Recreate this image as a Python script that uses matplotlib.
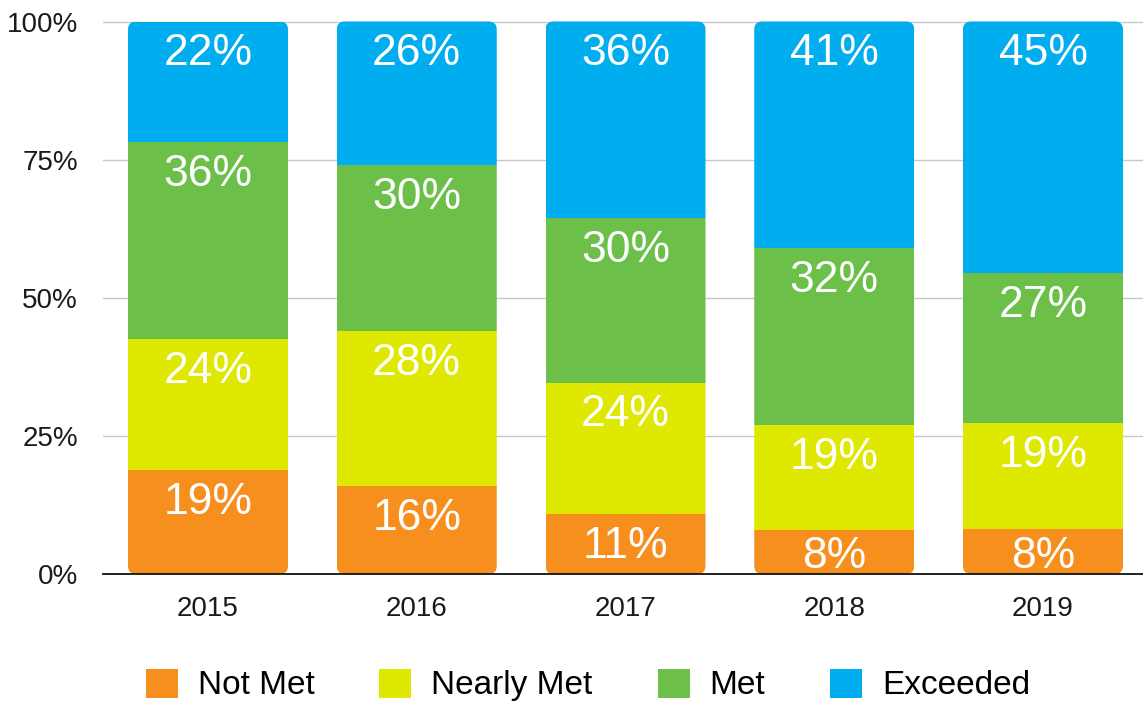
import matplotlib
matplotlib.use('Agg')
import matplotlib.pyplot as plt
from matplotlib.patches import FancyBboxPatch, Patch
import numpy as np

years = ['2015', '2016', '2017', '2018', '2019']
series = ['Not Met', 'Nearly Met', 'Met', 'Exceeded']
not_met = [19, 16, 11, 8, 8]
nearly_met = [24, 28, 24, 19, 19]
met = [36, 30, 30, 32, 27]
exceeded = [22, 26, 36, 41, 45]
colors = ['#F78F1E', '#DEE800', '#6CC04A', '#00ADEF']
yticks = [0, 25, 50, 75, 100]
ytick_labels = ['0%', '25%', '50%', '75%', '100%']

W, H = 1143, 702
fig = plt.figure(figsize=(W / 100, H / 100), dpi=100)

# layout in pixels
y0_px, y100_px = 574, 21.5
ppu_y = (y0_px - y100_px) / 100.0
ytop = 102
ax_left = 103
ax_h = ytop * ppu_y
ax = fig.add_axes([ax_left / W, (H - y0_px) / H, 1 - ax_left / W, ax_h / H])

bar_px = 160
step_px = 208.75
c0_px = 208
xlim = ((ax_left - c0_px) / step_px, (W - c0_px) / step_px)
ax.set_xlim(*xlim)
ax.set_ylim(0, ytop)
width = bar_px / step_px

data = np.array([not_met, nearly_met, met, exceeded], dtype=float)
totals = data.sum(axis=0)
norm = data / totals * 100

x = np.arange(len(years))
r_px = 8
rx = r_px / step_px
ry = r_px / ppu_y

fs = 32
cap_px = 0.716 * fs * 100 / 72.0
px2pt = 72.0 / 100

for i in range(len(years)):
    clip = FancyBboxPatch((x[i] - width / 2, 0), width, 100,
                          boxstyle=f"round,pad=0,rounding_size={rx}",
                          mutation_aspect=ry / rx, transform=ax.transData,
                          facecolor='none', edgecolor='none')
    bottom = 0
    for s in range(len(series)):
        h = norm[s, i]
        bars = ax.bar(x[i], h, width, bottom=bottom, color=colors[s],
                      linewidth=0, zorder=3)
        for b in bars:
            b.set_clip_path(clip)
        top = bottom + h
        seg_px = h * ppu_y
        center_off = min(28.0, seg_px / 2)
        base_off = center_off + cap_px / 2
        ax.annotate(f"{int(data[s, i])}%", (x[i], top),
                    xytext=(0, -base_off * px2pt),
                    textcoords='offset points', ha='center', va='baseline',
                    color='white', fontsize=fs, family='Liberation Sans',
                    zorder=4)
        bottom = top

ax.set_yticks(yticks)
ax.set_yticklabels(ytick_labels)
ax.set_xticks(x)
ax.set_xticklabels(years)
ax.tick_params(axis='y', length=0, pad=18, labelsize=20, labelcolor='#1a1a1a')
ax.tick_params(axis='x', length=0, pad=16, labelsize=20, labelcolor='#1a1a1a')
for lab in ax.get_xticklabels() + ax.get_yticklabels():
    lab.set_family('Liberation Sans')
ax.yaxis.grid(True, color='#c8c8c8', linewidth=1, zorder=0)
ax.set_axisbelow(True)
for sp in ['top', 'right', 'left']:
    ax.spines[sp].set_visible(False)
ax.spines['bottom'].set_color('#111111')
ax.spines['bottom'].set_linewidth(1.3)
ax.spines['bottom'].set_zorder(5)

handles = [Patch(facecolor=c, edgecolor='none') for c in colors]
fig.legend(handles, series, loc='center', bbox_to_anchor=(588 / W, 1 - 685 / H),
           ncol=4, frameon=False, handlelength=0.96, handleheight=0.96,
           handletextpad=0.6, columnspacing=1.95,
           prop={'family': 'Liberation Sans', 'size': 24})

fig.savefig('out.png', dpi=100)
